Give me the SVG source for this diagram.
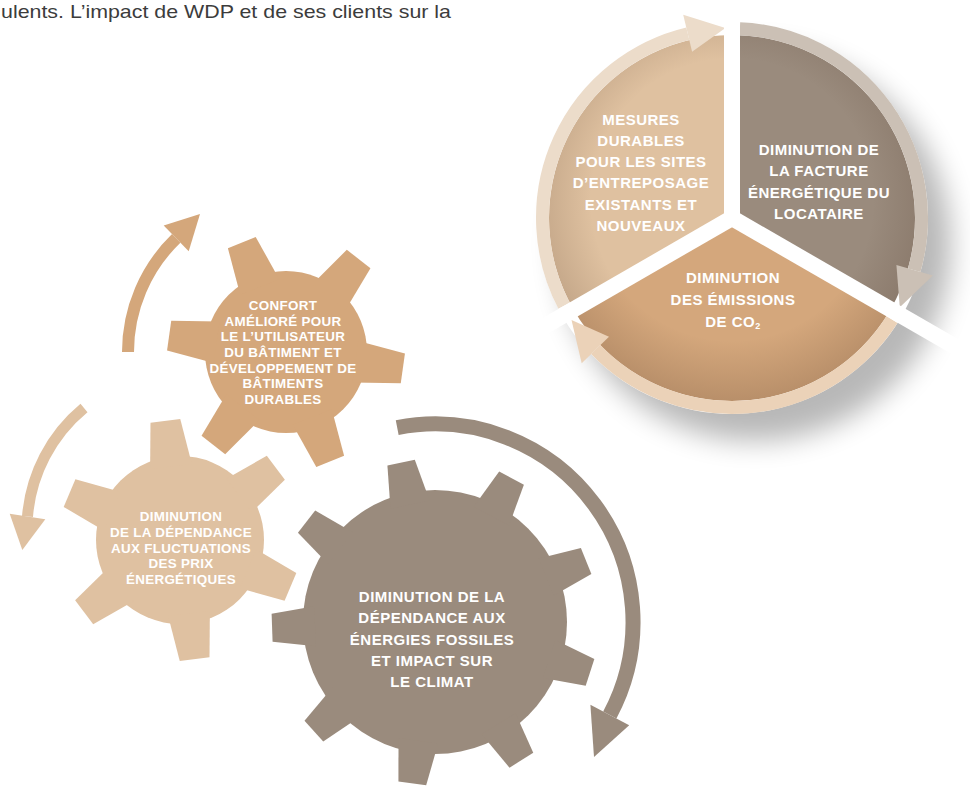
<svg xmlns="http://www.w3.org/2000/svg" xmlns:xlink="http://www.w3.org/1999/xlink" width="970" height="787" viewBox="0 0 970 787">
  <style>
    .lbl { font-family: "Liberation Sans", Arial, sans-serif; font-weight: bold; fill: #ffffff; text-anchor: middle; }
    .big { font-size: 15px; letter-spacing: 0.5px; }
    .sm { font-size: 13.4px; letter-spacing: 0.3px; }
    .intro { font-family: "Liberation Sans", Arial, sans-serif; font-size: 19px; fill: #3c3c3c; }
    .bar { stroke: #ffffff; stroke-width: 16; fill: none; }
    .ring { fill: none; stroke-width: 13; }
  </style>
  <defs>
    <filter id="shadow" x="-30%" y="-30%" width="160%" height="160%">
      <feGaussianBlur stdDeviation="14"/>
    </filter>
    <radialGradient id="inner" cx="0.5" cy="0.45" r="0.55">
      <stop offset="0.7" stop-color="#4a3020" stop-opacity="0"/>
      <stop offset="1" stop-color="#4a3020" stop-opacity="0.2"/>
    </radialGradient>
    <path id="toothTop" d="M-21,-70 L21,-70 L15,-118 L-15,-118 Z"/>
    <path id="toothLeft" d="M-21,-74 L21,-74 L15,-120 L-15,-120 Z"/>
    <path id="toothBig" d="M-20,-120 L20,-120 L14,-163 L-14,-163 Z"/>
  </defs>

  <rect width="970" height="787" fill="#ffffff"/>

  <text class="intro" x="1" y="17.5" textLength="450" lengthAdjust="spacingAndGlyphs">ulents. L’impact de WDP et de ses clients sur la</text>

  <!-- Pie chart -->
  <g id="pie">
    <circle cx="755" cy="245" r="196" fill="#000" opacity="0.28" filter="url(#shadow)"/>
    <circle cx="732" cy="218" r="196" fill="#ffffff"/>
    <g id="sector-mesures">
      <path d="M732,218 L573.5,309.5 A183,183 0 0 1 732,35 Z" fill="#dfc1a0"/>
    </g>
    <g id="sector-facture">
      <path d="M732,218 L732,35 A183,183 0 0 1 890.5,309.5 Z" fill="#9a8b7d"/>
    </g>
    <g id="sector-emissions">
      <path d="M732,218 L890.5,309.5 A183,183 0 0 1 573.5,309.5 Z" fill="#d4a77c"/>
    </g>
    <circle cx="732" cy="218" r="183" fill="url(#inner)"/>
  </g>

  <g id="connectors">
    <!-- pie ring arrows -->
    <path class="ring" d="M564.1,305.8 A189.5,189.5 0 0 1 687.8,33.7" stroke="#ecdcca"/>
    <polygon points="692.1,51.7 683.2,14.8 725.4,28.1" fill="#ecdcca"/>
    <path class="ring" d="M739.9,28.7 A189.5,189.5 0 0 1 914.2,270.2" stroke="#cbc0b5"/>
    <polygon points="896.4,265.1 932.9,275.6 899.8,307.2" fill="#cbc0b5"/>
    <path class="ring" d="M892,319.5 A189.5,189.5 0 0 1 595.7,349.6" stroke="#ebd2b8"/>
    <polygon points="609,336.8 581.7,363.2 571.5,320" fill="#ebd2b8"/>
    <!-- gear arrows -->
    <path d="M128,352 A158,158 0 0 1 176.2,238.4" fill="none" stroke="#d4a77b" stroke-width="12"/>
    <polygon points="163.7,225.4 188.7,251.3 200,214" fill="#d4a77b"/>
    <path d="M84,408 A157,157 0 0 0 27.5,516.5" fill="none" stroke="#dfc1a1" stroke-width="11"/>
    <polygon points="9.7,513.7 45.3,519.3 22.3,550" fill="#dfc1a1"/>
    <path d="M397.2,427.6 A198,198 0 0 1 609.8,715" fill="none" stroke="#9a8b7d" stroke-width="15"/>
    <polygon points="590.4,704.7 629.2,725.3 594,757" fill="#9a8b7d"/>
  </g>

  <!-- white dividing bars -->
  <g id="dividers">
    <line class="bar" x1="732" y1="218" x2="732" y2="-10"/>
    <line class="bar" x1="732" y1="218" x2="515.5" y2="343"/>
    <line class="bar" x1="732" y1="218" x2="992" y2="368"/>
  </g>

  <g id="label-mesures">
    <text class="lbl big" x="641" y="125">MESURES</text>
    <text class="lbl big" x="641" y="146">DURABLES</text>
    <text class="lbl big" x="641" y="167">POUR LES SITES</text>
    <text class="lbl big" x="641" y="188">D’ENTREPOSAGE</text>
    <text class="lbl big" x="641" y="210">EXISTANTS ET</text>
    <text class="lbl big" x="641" y="231">NOUVEAUX</text>
  </g>
  <g id="label-facture">
    <text class="lbl big" x="819" y="155">DIMINUTION DE</text>
    <text class="lbl big" x="819" y="176">LA FACTURE</text>
    <text class="lbl big" x="819" y="198">ÉNERGÉTIQUE DU</text>
    <text class="lbl big" x="819" y="219">LOCATAIRE</text>
  </g>
  <g id="label-emissions">
    <text class="lbl big" x="733" y="283">DIMINUTION</text>
    <text class="lbl big" x="733" y="305">DES ÉMISSIONS</text>
    <text class="lbl big" x="733" y="327">DE CO<tspan font-size="9" dy="2">2</tspan></text>
  </g>

  <!-- Gears -->
  <g id="gear-confort" fill="#d4a77b">
    <circle cx="286" cy="352" r="81"/>
    <use xlink:href="#toothTop" transform="translate(286,352) rotate(98)"/>
    <use xlink:href="#toothTop" transform="translate(286,352) rotate(158)"/>
    <use xlink:href="#toothTop" transform="translate(286,352) rotate(218)"/>
    <use xlink:href="#toothTop" transform="translate(286,352) rotate(278)"/>
    <use xlink:href="#toothTop" transform="translate(286,352) rotate(338)"/>
    <use xlink:href="#toothTop" transform="translate(286,352) rotate(38)"/>
    <text class="lbl sm" x="283" y="310">CONFORT</text>
    <text class="lbl sm" x="283" y="326">AMÉLIORÉ POUR</text>
    <text class="lbl sm" x="283" y="341">LE L’UTILISATEUR</text>
    <text class="lbl sm" x="283" y="357">DU BÂTIMENT ET</text>
    <text class="lbl sm" x="283" y="373">DÉVELOPPEMENT DE</text>
    <text class="lbl sm" x="283" y="388">BÂTIMENTS</text>
    <text class="lbl sm" x="283" y="404">DURABLES</text>
  </g>

  <g id="gear-fluctuations" fill="#dfc1a1">
    <circle cx="180" cy="540" r="84"/>
    <use xlink:href="#toothLeft" transform="translate(180,540) rotate(113)"/>
    <use xlink:href="#toothLeft" transform="translate(180,540) rotate(173)"/>
    <use xlink:href="#toothLeft" transform="translate(180,540) rotate(233)"/>
    <use xlink:href="#toothLeft" transform="translate(180,540) rotate(293)"/>
    <use xlink:href="#toothLeft" transform="translate(180,540) rotate(353)"/>
    <use xlink:href="#toothLeft" transform="translate(180,540) rotate(53)"/>
    <text class="lbl sm" x="181" y="521">DIMINUTION</text>
    <text class="lbl sm" x="181" y="537">DE LA DÉPENDANCE</text>
    <text class="lbl sm" x="181" y="553">AUX FLUCTUATIONS</text>
    <text class="lbl sm" x="181" y="568">DES PRIX</text>
    <text class="lbl sm" x="181" y="584">ÉNERGÉTIQUES</text>
  </g>

  <g id="gear-fossiles" fill="#9a8b7d">
    <circle cx="435" cy="622" r="132"/>
    <use xlink:href="#toothBig" transform="translate(435,622) rotate(108)"/>
    <use xlink:href="#toothBig" transform="translate(435,622) rotate(148)"/>
    <use xlink:href="#toothBig" transform="translate(435,622) rotate(188)"/>
    <use xlink:href="#toothBig" transform="translate(435,622) rotate(228)"/>
    <use xlink:href="#toothBig" transform="translate(435,622) rotate(268)"/>
    <use xlink:href="#toothBig" transform="translate(435,622) rotate(308)"/>
    <use xlink:href="#toothBig" transform="translate(435,622) rotate(348)"/>
    <use xlink:href="#toothBig" transform="translate(435,622) rotate(28)"/>
    <use xlink:href="#toothBig" transform="translate(435,622) rotate(68)"/>
    <text class="lbl big" x="432" y="602">DIMINUTION DE LA</text>
    <text class="lbl big" x="432" y="623">DÉPENDANCE AUX</text>
    <text class="lbl big" x="432" y="645">ÉNERGIES FOSSILES</text>
    <text class="lbl big" x="432" y="666">ET IMPACT SUR</text>
    <text class="lbl big" x="432" y="687">LE CLIMAT</text>
  </g>
</svg>
